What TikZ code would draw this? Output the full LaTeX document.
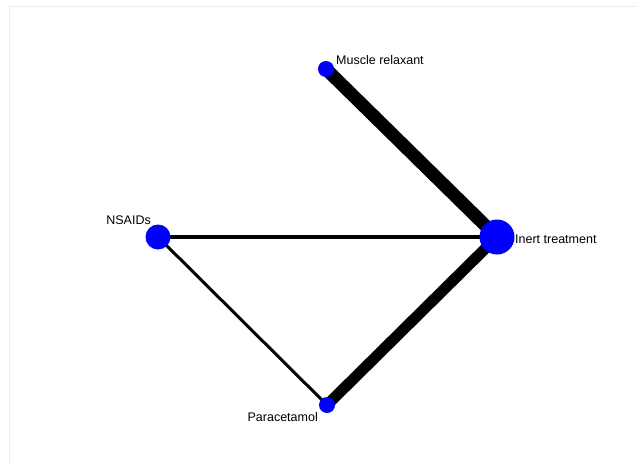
\documentclass[tikz,border=0pt]{standalone}
\usepackage{fontspec}
\setmainfont{Liberation Sans}
\definecolor{frame}{RGB}{232,238,238}
\definecolor{nodeblue}{RGB}{0,0,255}
\begin{document}
\begin{tikzpicture}[x=1pt,y=-1pt,
  treat/.style={circle,fill=nodeblue,inner sep=0pt,minimum size=#1},
  lbl/.style={inner sep=0pt,font=\fontsize{12.5}{14}\selectfont},
  edge/.style={line width=#1,black}]
  \useasboundingbox (0,0) rectangle (637,463);
  % light frame of the plot area
  \draw[frame,line width=1pt] (9,463) -- (9,6) -- (637,6);

  % treatment positions
  \coordinate (mr) at (326,69);
  \coordinate (it) at (497,237);
  \coordinate (ns) at (158,237);
  \coordinate (pa) at (327,405);

  % comparisons, width by amount of evidence
  \draw[edge=13pt] (mr) -- (it);
  \draw[edge=11pt] (pa) -- (it);
  \draw[edge=4pt] (ns) -- (it);
  \draw[edge=3pt] (ns) -- (pa);

  % treatment nodes
  \node[treat=16pt] (nmr) at (mr) {};
  \node[treat=35pt] (nit) at (it) {};
  \node[treat=25pt] (nns) at (ns) {};
  \node[treat=16pt] (npa) at (pa) {};

  % labels
  \node[lbl,anchor=base west] (lmr) at (336,64) {Muscle relaxant};
  \node[lbl,anchor=base west] (lit) at (515,243) {Inert treatment};
  \node[lbl,anchor=base east] (lns) at (151,224) {NSAIDs};
  \node[lbl,anchor=base east] (lpa) at (318,421) {Paracetamol};
\end{tikzpicture}
\end{document}
